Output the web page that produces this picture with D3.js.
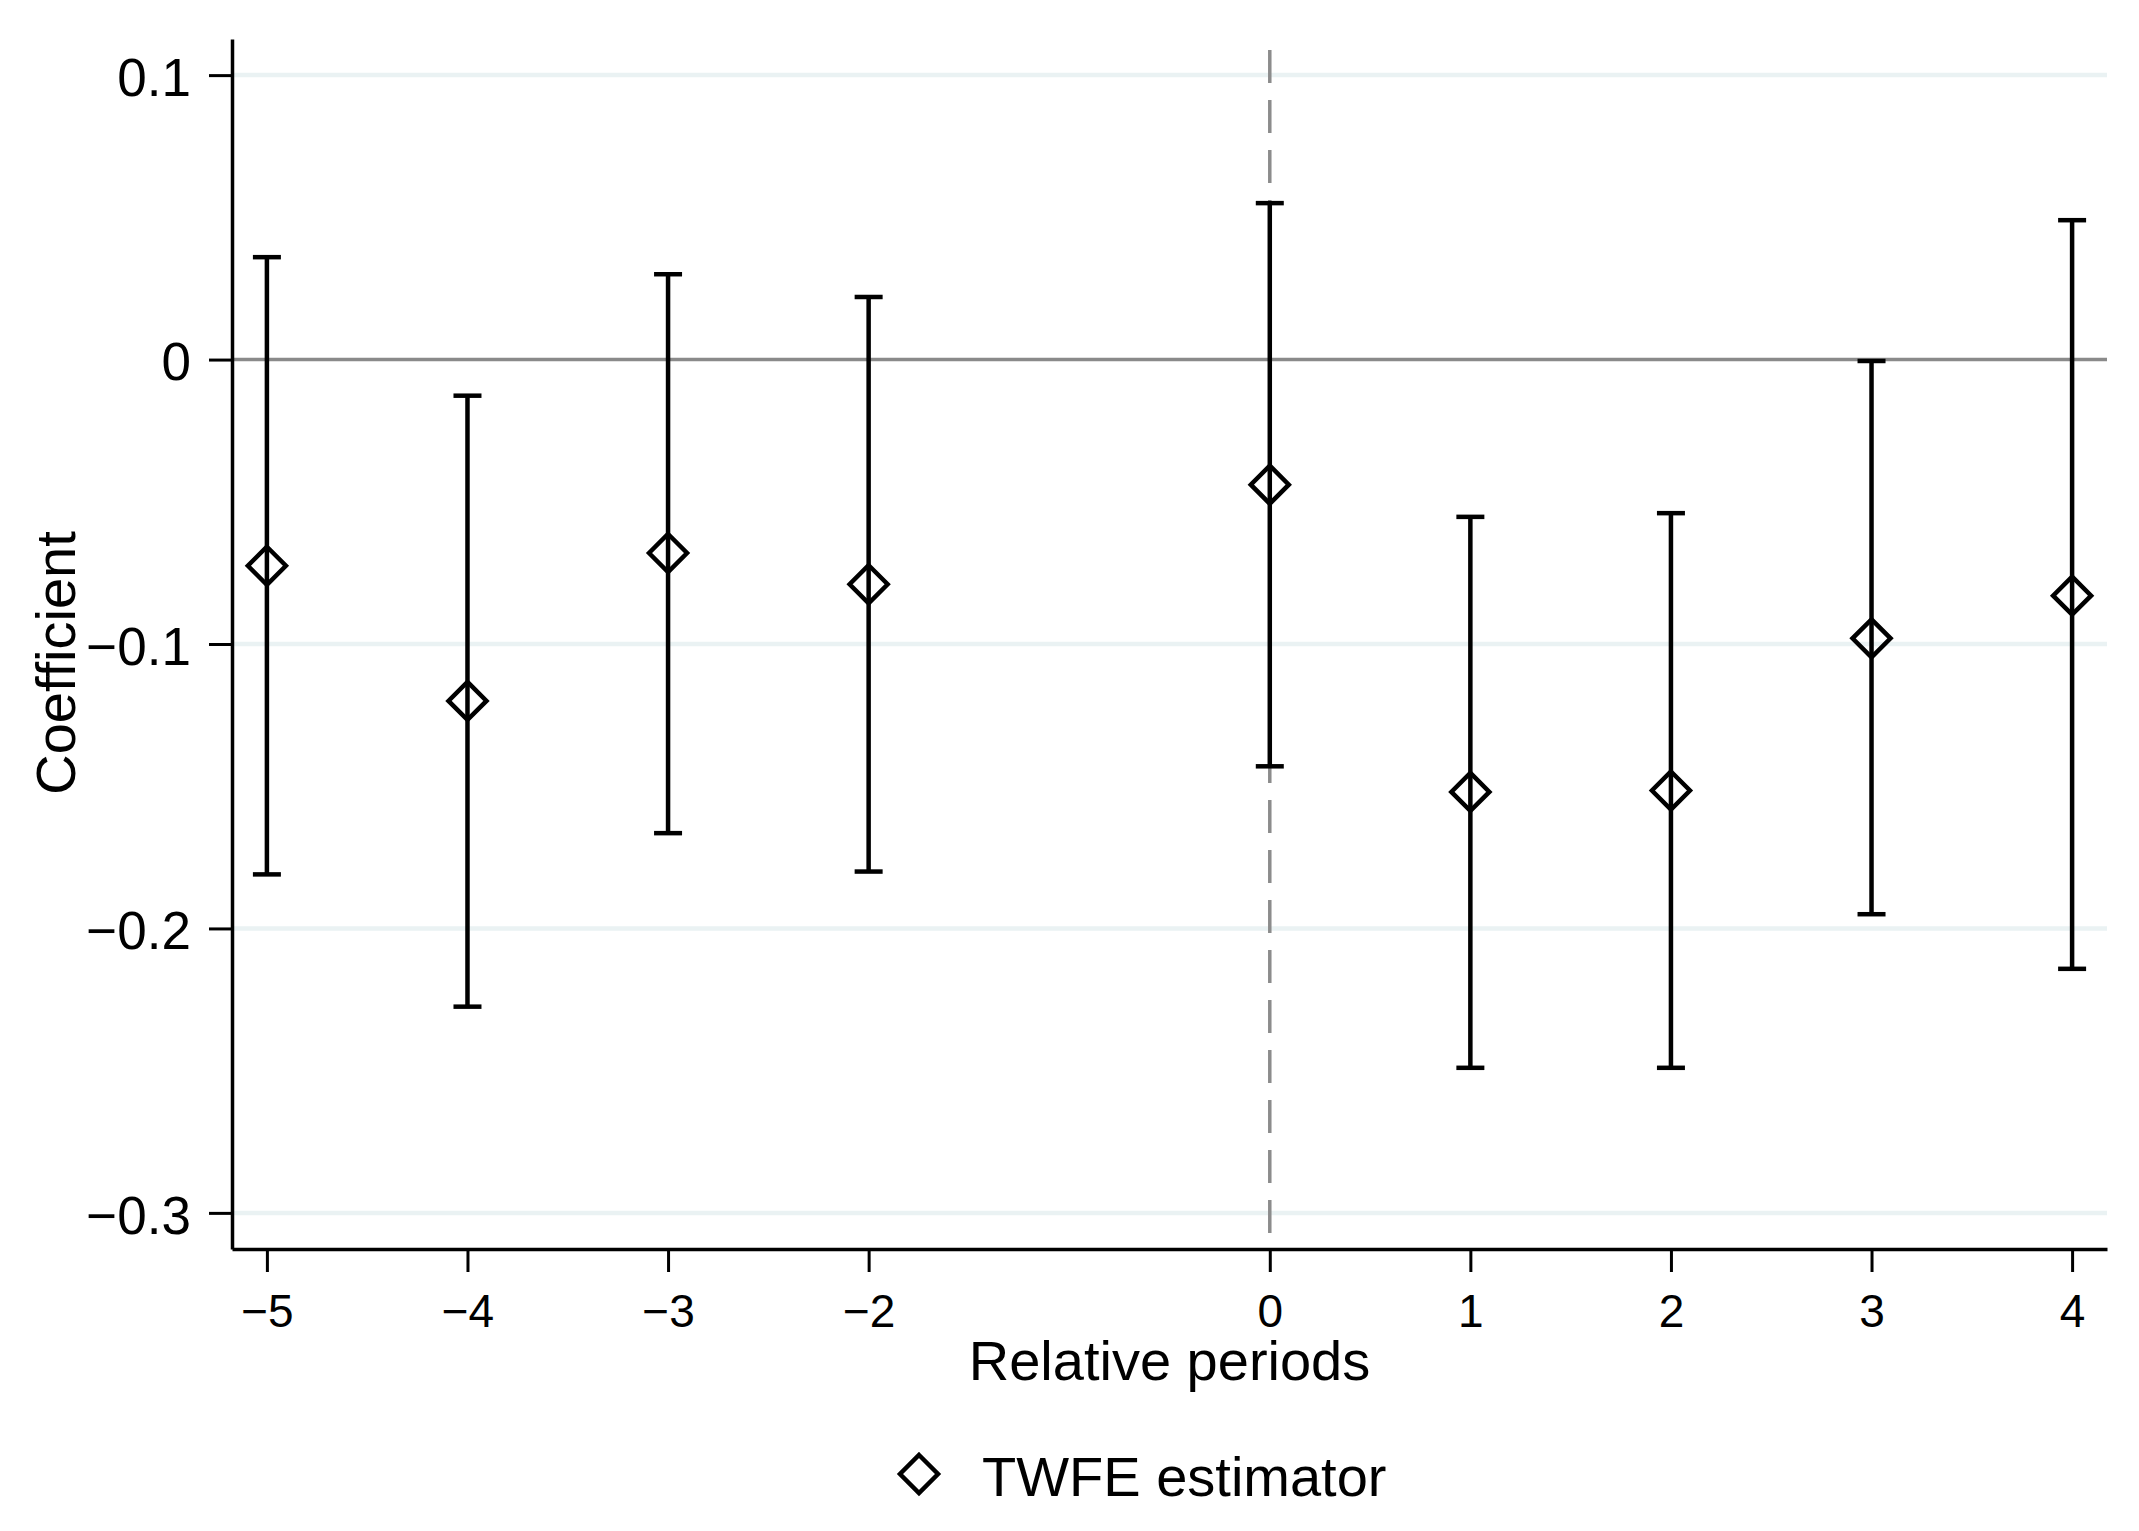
<!DOCTYPE html>
<html>
<head>
<meta charset="utf-8">
<script src="https://cdn.jsdelivr.net/npm/d3@7"></script>
<style>
  body { margin: 0; background: #fff; }
  svg { display: block; font-family: "Liberation Sans", Arial, sans-serif; }
</style>
</head>
<body>
<div id="chart"></div>
<script>
// event-study estimates
const periods = [-5, -4, -3, -2, 0, 1, 2, 3, 4]
const coef  = [-0.0725, -0.120, -0.068, -0.079, -0.044, -0.152, -0.1515, -0.098, -0.083]
const upper = [0.036, -0.0127, 0.030, 0.022, 0.055, -0.0553, -0.054, -0.0005, 0.049]
const lower = [-0.181, -0.2275, -0.1665, -0.180, -0.143, -0.249, -0.249, -0.195, -0.2142]

const yTicks = [-0.3, -0.2, -0.1, 0, 0.1]
const xTicks = [-5, -4, -3, -2, 0, 1, 2, 3, 4]
const legendLabel = "TWFE estimator"

const width = 2139
const height = 1531
const plot = {left: 232, right: 2107, top: 39, bottom: 1249}

const x = d3.scaleLinear()
  .domain([-5.174, 4.174])
  .range([plot.left, plot.right])

const y = d3.scaleLinear()
  .domain([-0.3127, 0.1127])
  .range([plot.bottom, plot.top])

const svg = d3.select("#chart")
  .append("svg")
  .attr("width", width)
  .attr("height", height)

svg.append("rect")
  .attr("width", width)
  .attr("height", height)
  .attr("fill", "#fff")

// light gridlines (zero gets its own reference line)
svg.append("g")
  .selectAll("line")
  .data(yTicks.filter(d => d !== 0))
  .enter()
  .append("line")
  .attr("x1", plot.left)
  .attr("x2", plot.right)
  .attr("y1", d => y(d))
  .attr("y2", d => y(d))
  .attr("stroke", "#eaf2f3")
  .attr("stroke-width", 4.5)

// horizontal zero line
svg.append("line")
  .attr("x1", plot.left)
  .attr("x2", plot.right)
  .attr("y1", y(0))
  .attr("y2", y(0))
  .attr("stroke", "#8a8a8a")
  .attr("stroke-width", 3.5)

// dashed line at period 0
svg.append("line")
  .attr("x1", x(0))
  .attr("x2", x(0))
  .attr("y1", 50)
  .attr("y2", plot.bottom)
  .attr("stroke", "#8c8c8c")
  .attr("stroke-width", 3.5)
  .attr("stroke-dasharray", "33,17")

const rows = periods.map((p, i) => ({p: p, b: coef[i], hi: upper[i], lo: lower[i]}))

const bars = svg.append("g")
  .selectAll(".ci")
  .data(rows)
  .enter()
  .append("g")
  .attr("class", "ci")
  .attr("stroke", "#000")
  .attr("stroke-width", 4.5)

bars.append("line")
  .attr("x1", d => x(d.p))
  .attr("x2", d => x(d.p))
  .attr("y1", d => y(d.hi))
  .attr("y2", d => y(d.lo))

bars.append("line")
  .attr("x1", d => x(d.p) - 14)
  .attr("x2", d => x(d.p) + 14)
  .attr("y1", d => y(d.hi))
  .attr("y2", d => y(d.hi))

bars.append("line")
  .attr("x1", d => x(d.p) - 14)
  .attr("x2", d => x(d.p) + 14)
  .attr("y1", d => y(d.lo))
  .attr("y2", d => y(d.lo))

const diamond = r => `M0,${-r}L${r},0L0,${r}L${-r},0Z`

svg.append("g")
  .selectAll("path")
  .data(rows)
  .enter()
  .append("path")
  .attr("transform", d => `translate(${x(d.p)},${y(d.b)})`)
  .attr("d", diamond(19))
  .attr("fill", "none")
  .attr("stroke", "#000")
  .attr("stroke-width", 4.5)

// axes
const fmt = d => d === 0 ? "0" : d3.format(".1f")(d)

const yAxis = svg.append("g")
  .attr("transform", `translate(${plot.left},0)`)
  .call(d3.axisLeft(y).tickValues(yTicks).tickFormat(fmt).tickSize(23).tickSizeOuter(0).tickPadding(18))

const xAxis = svg.append("g")
  .attr("transform", `translate(0,${plot.bottom})`)
  .call(d3.axisBottom(x).tickValues(xTicks).tickFormat(d3.format("d")).tickSize(23).tickSizeOuter(0).tickPadding(22))

yAxis.select(".domain").attr("stroke", "#000").attr("stroke-width", 3.5)
xAxis.select(".domain").attr("stroke", "#000").attr("stroke-width", 3.5)
yAxis.selectAll(".tick line").attr("stroke", "#000").attr("stroke-width", 3)
xAxis.selectAll(".tick line").attr("stroke", "#000").attr("stroke-width", 3)

yAxis.selectAll(".tick text")
  .attr("fill", "#000")
  .attr("font-size", 53)
  .attr("font-family", "Liberation Sans, Arial, sans-serif")
  .attr("dy", "0.38em")

xAxis.selectAll(".tick text")
  .attr("fill", "#000")
  .attr("font-size", 46)
  .attr("font-family", "Liberation Sans, Arial, sans-serif")

// titles
svg.append("text")
  .attr("x", (plot.left + plot.right) / 2)
  .attr("y", 1380)
  .attr("text-anchor", "middle")
  .attr("font-size", 56)
  .text("Relative periods")

svg.append("text")
  .attr("transform", "translate(75,663) rotate(-90)")
  .attr("text-anchor", "middle")
  .attr("font-size", 56)
  .text("Coefficient")

// legend
const legend = svg.append("g")
  .attr("transform", "translate(919,1474)")

legend.append("path")
  .attr("d", diamond(19))
  .attr("fill", "none")
  .attr("stroke", "#000")
  .attr("stroke-width", 4.5)

legend.append("text")
  .attr("x", 63)
  .attr("y", 22)
  .attr("font-size", 56)
  .text(legendLabel)
</script>
</body>
</html>
